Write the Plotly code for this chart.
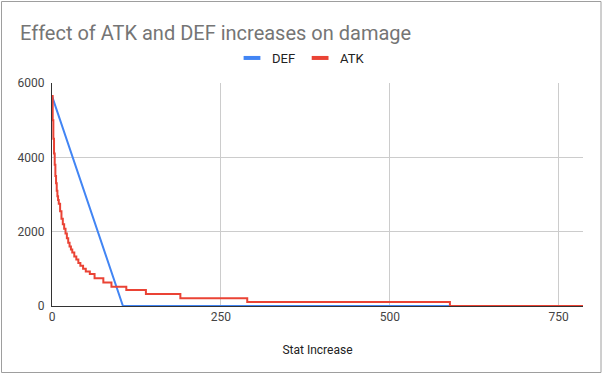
import plotly.graph_objects as go

# Data
def_x = [0, 105, 786]
def_y = [5650, 0, 0]

atk_x = [0, 1, 2, 3, 4, 5, 6, 7, 8, 9, 10, 12, 14, 16, 18, 20, 22, 24, 26, 28, 30,
         33, 36, 39, 42, 46, 50, 56, 63, 76, 88, 110, 139, 190, 289, 589, 786]
atk_y = [5650, 5000, 4500, 4100, 3800, 3500, 3300, 3100, 2950, 2850, 2750, 2550, 2350,
         2200, 2080, 1950, 1820, 1700, 1600, 1520, 1440, 1330, 1250, 1160, 1080, 1000,
         930, 860, 750, 630, 520, 430, 320, 210, 110, 0, 0]

x_ticks = [0, 250, 500, 750]
y_ticks = [0, 2000, 4000, 6000]

W, H = 603, 375
L, R, T, B = 52, 20, 83, 69
pw, ph = W - L - R, H - T - B

def px(x):
    return (x - L) / pw

def py(y):
    return (H - B - y) / ph

DEF_C, ATK_C = "#4285F4", "#EA4335"

fig = go.Figure()
fig.add_trace(go.Scatter(x=def_x, y=def_y, mode="lines", name="DEF", showlegend=False,
                         line=dict(color=DEF_C, width=2)))
fig.add_trace(go.Scatter(x=atk_x, y=atk_y, mode="lines", name="ATK", showlegend=False,
                         line=dict(color=ATK_C, width=2, shape="hv")))
# legend entries with short thick dash symbols
for name, c in (("DEF", DEF_C), ("ATK", ATK_C)):
    fig.add_trace(go.Scatter(x=[None], y=[None], mode="markers", name=name,
                             marker=dict(symbol="line-ew", size=12, color=c,
                                         line=dict(color=c, width=4))))

fig.update_layout(
    width=W, height=H,
    margin=dict(l=L, r=R, t=T, b=B),
    paper_bgcolor="white", plot_bgcolor="white",
    font=dict(family="Roboto, Arial, sans-serif", size=12, color="#444444"),
    title=dict(text="Effect of ATK and DEF increases on damage",
               font=dict(size=20, color="#757575", family="Roboto, Arial, sans-serif"),
               x=20 / W, xanchor="left", y=1 - 33 / H, yanchor="middle"),
    legend=dict(orientation="h", x=px(301), xanchor="center", y=py(58), yanchor="middle",
                font=dict(size=13, color="#222222"), itemwidth=30,
                bgcolor="rgba(0,0,0,0)"),
    xaxis=dict(range=[0, 786], tickvals=x_ticks, ticktext=[str(v) for v in x_ticks],
               showgrid=True, gridcolor="#cccccc", zeroline=False,
               showline=True, linecolor="#333333", linewidth=1,
               ticks="", tickfont=dict(size=12, color="#444444"),
               title=dict(text="Stat Increase", font=dict(size=12, color="#222222"),
                          standoff=22)),
    yaxis=dict(range=[0, 6000], tickvals=y_ticks, ticktext=[str(v) for v in y_ticks],
               showgrid=True, gridcolor="#cccccc", zeroline=False,
               showline=True, linecolor="#333333", linewidth=1,
               ticks="", tickfont=dict(size=12, color="#444444"),
               ticklabelstandoff=4),
    shapes=[dict(type="rect", xref="paper", yref="paper",
                 x0=px(1.5), x1=px(601), y0=py(372.5), y1=py(1.5),
                 line=dict(color="#9e9e9e", width=1), fillcolor="rgba(0,0,0,0)",
                 layer="below")],
)

fig.write_html("out.html", config={"displayModeBar": False},
               post_script="document.body.style.margin='0';document.body.style.padding='0';")
